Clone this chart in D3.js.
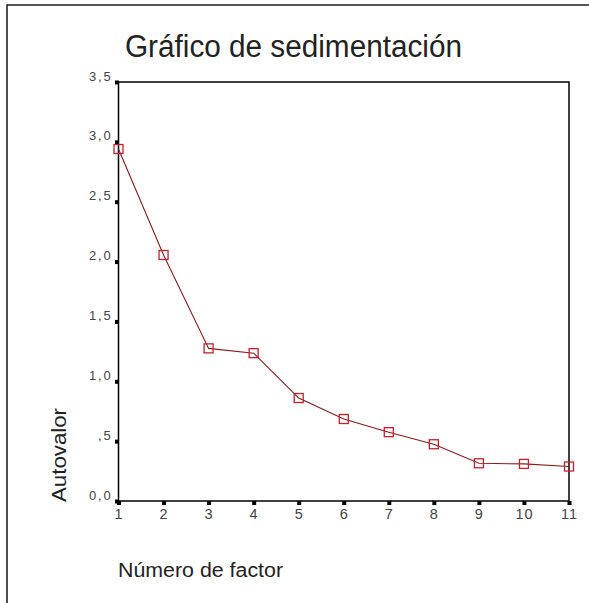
<!DOCTYPE html>
<html>
<head>
<meta charset="utf-8">
<script src="https://cdn.jsdelivr.net/npm/d3@7"></script>
<style>
  body { margin: 0; background: #fff; }
  svg text { font-family: Arial, "Liberation Sans", sans-serif; }
</style>
</head>
<body>
<div id="plot-container"></div>
<script>
// The chart values
var factors = [1, 2, 3, 4, 5, 6, 7, 8, 9, 10, 11];
var eigenvalues = [2.94, 2.055, 1.275, 1.235, 0.86, 0.685, 0.575, 0.474, 0.315, 0.31, 0.288];
var yTicks = [0, 0.5, 1, 1.5, 2, 2.5, 3, 3.5];
var yTickLabels = ['0,0', ',5', '1,0', '1,5', '2,0', '2,5', '3,0', '3,5'];

var totalWidth = 589, totalHeight = 603;
var plotBox = {left: 118.5, right: 569, top: 82, bottom: 501};

var xScale = d3.scaleLinear().domain([1, 11]).range([plotBox.left, plotBox.right]);
var yScale = d3.scaleLinear().domain([0, 3.5]).range([plotBox.bottom, plotBox.top]);
var line = d3.line().x(function(d, i) { return xScale(factors[i]); }).y(function(d) { return yScale(d); });

var svg = d3.select('#plot-container').append('svg').attr('width', totalWidth).attr('height', totalHeight);

// outer border, only top and left are visible
svg.append('path').attr('d', 'M7,' + totalHeight + 'V5H' + totalWidth)
  .attr('fill', 'none').attr('stroke', '#222').attr('stroke-width', 1.6);

// title
svg.append('text').attr('x', 125).attr('y', 57).attr('font-size', 31).attr('fill', '#222')
  .attr('textLength', 337).attr('lengthAdjust', 'spacingAndGlyphs')
  .text('Gráfico de sedimentación');

// plot frame
svg.append('rect').attr('x', plotBox.left).attr('y', plotBox.top)
  .attr('width', plotBox.right - plotBox.left).attr('height', plotBox.bottom - plotBox.top)
  .attr('fill', 'none').attr('stroke', '#000').attr('stroke-width', 1.5);

// Y axis
var yAxis = d3.axisLeft(yScale).tickValues(yTicks).tickSize(0).tickPadding(6)
  .tickFormat(function(d, i) { return yTickLabels[i]; });
var gy = svg.append('g').attr('transform', 'translate(' + plotBox.left + ',0)').call(yAxis);
gy.select('.domain').remove();
gy.selectAll('text').attr('font-size', 13).attr('fill', '#444').attr('letter-spacing', 1.8).attr('dy', '-0.15em');
gy.selectAll('.tick').append('rect').attr('x', -3.5).attr('y', -2).attr('width', 4).attr('height', 4).attr('fill', '#000');

// X axis
var xAxis = d3.axisBottom(xScale).tickValues(factors).tickSize(0).tickPadding(8).tickFormat(d3.format('d'));
var gx = svg.append('g').attr('transform', 'translate(0,' + plotBox.bottom + ')').call(xAxis);
gx.select('.domain').remove();
gx.selectAll('text').attr('font-size', 14.5).attr('fill', '#444').attr('letter-spacing', 1);
gx.selectAll('.tick').append('rect').attr('x', -2).attr('y', 0).attr('width', 4).attr('height', 4).attr('fill', '#000');

// axis titles
svg.append('text').attr('transform', 'translate(66,502) rotate(-90)').attr('font-size', 20).attr('fill', '#222')
  .attr('textLength', 94).attr('lengthAdjust', 'spacingAndGlyphs')
  .text('Autovalor');
svg.append('text').attr('x', 118).attr('y', 577).attr('font-size', 20).attr('fill', '#222')
  .attr('textLength', 165).attr('lengthAdjust', 'spacingAndGlyphs')
  .text('Número de factor');

// the scree line
svg.append('path').datum(eigenvalues).attr('d', line)
  .attr('fill', 'none').attr('stroke', '#8a1c1c').attr('stroke-width', 1.1);

svg.selectAll('rect.marker').data(eigenvalues).enter().append('rect').attr('class', 'marker')
  .attr('x', function(d, i) { return xScale(factors[i]) - 4.5; })
  .attr('y', function(d) { return yScale(d) - 4.5; })
  .attr('width', 9).attr('height', 9)
  .attr('fill', 'none').attr('stroke', '#c8202a').attr('stroke-width', 1.3);
</script>
</body>
</html>
